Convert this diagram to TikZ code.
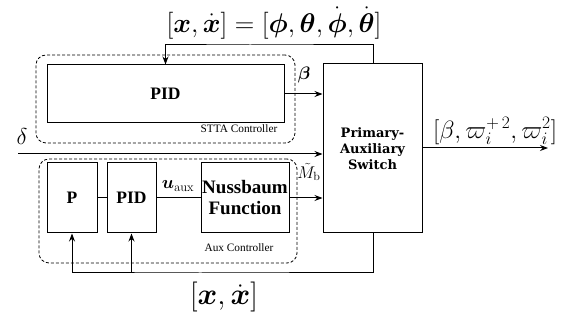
\RequirePackage{fix-cm}
\documentclass[tikz,border=0pt]{standalone}
\usepackage{amsmath,amssymb}
\usepackage[no-math]{fontspec}
\setmainfont{LiberationSerif}[Extension=.ttf,UprightFont=*-Regular,
  BoldFont=*-Bold,ItalicFont=*-Italic,BoldItalicFont=*-BoldItalic]
\newfontfamily\slabfont{DejaVu Serif}
\usepackage{tikz}
\usetikzlibrary{arrows.meta}
\tikzstyle{Block}=[draw,line width=1pt,inner sep=1pt,align=center,
font=\fontsize{17.5}{19}\selectfont\bfseries]
\tikzstyle{Group}=[draw,dash pattern=on 3pt off 2pt,line width=.8pt,
rounded corners=10pt]
\tikzstyle{Edge}=[draw,line width=1pt]
\tikzstyle{Arrow}=[Edge,-{Stealth[length=8pt,width=6pt]}]
\tikzstyle{Sig}=[font=\fontsize{18}{20}\selectfont]
\tikzstyle{Big}=[font=\fontsize{27}{30}\selectfont]
\tikzstyle{Tag}=[font=\fontsize{11.3}{13}\selectfont]

\begin{document}
\begin{tikzpicture}[x=1pt,y=-1pt]
            \useasboundingbox(0,0)rectangle(565,320);
            % groups
            \node[Group,minimum width=259pt,minimum height=88pt](stta)at(165.5,99){};
            \node[Group,minimum width=258pt,minimum height=104pt](aux)at(168,211){};
            % blocks
            \node[Block,minimum width=237pt,minimum height=58pt](pid)at(165.5,94){PID};
            \node[Block,minimum width=99pt,minimum height=169pt,
                font=\fontsize{13}{16}\selectfont\slabfont\bfseries](sw)at(372.5,148.5)
                {Primary-\\Auxiliary\\Switch};
            \node[Block,minimum width=50pt,minimum height=70pt](p)at(72,198){P};
            \node[Block,minimum width=49pt,minimum height=70pt](pidaux)at(131.5,198){PID};
            \node[Block,minimum width=88pt,minimum height=70pt,
                font=\fontsize{19}{21}\selectfont\bfseries](nuss)at(245,198)
                {Nussbaum\\Function};
            % free ends
            \coordinate(fbtop)at(250,45);
            \coordinate(fbbot)at(200,273);
            \coordinate(din)at(18,154);
            \coordinate(dout)at(548,148);
            % connectors
            \draw[Arrow](sw.north-|373,0)|-(fbtop)-|(pid.north);
            \draw[Arrow](pid.east)--(pid.east-|sw.west);
            \draw[Arrow](din)--(din-|sw.west);
            \draw[Arrow](sw.east|-dout)--(dout);
            \draw[Edge](p)--(pidaux);
            \draw[Edge](pidaux)--(nuss);
            \draw[Arrow](nuss.east)--(nuss.east-|sw.west);
            \draw[Arrow](sw.south-|373,0)|-(fbbot)-|(p.south);
            \draw[Arrow](pidaux.south|-fbbot)--(pidaux.south);
            % labels
            \node[Big](top)at(274,23){$[\boldsymbol{x},\dot{\boldsymbol{x}}]=
                [\boldsymbol{\phi},\boldsymbol{\theta},\dot{\boldsymbol{\phi}},
                \dot{\boldsymbol{\theta}}]$};
            \node[Big,font=\fontsize{30}{33}\selectfont](bot)at(224,297)
                {$[\boldsymbol{x},\dot{\boldsymbol{x}}]$};
            \node[font=\fontsize{25}{28}\selectfont](outlab)at(495,131)
                {$[\beta,\varpi_i^{+\,2},\varpi_i^2]$};
            \node[font=\fontsize{23}{26}\selectfont](delta)at(22,137){$\delta$};
            \node[Sig](beta)at(304,75){$\boldsymbol{\beta}$};
            \node[font=\fontsize{17}{19}\selectfont](mb)at(309,172){$\tilde{M}_{\mathrm{b}}$};
            \node[Sig](uaux)at(178,186){$\boldsymbol{u}_{\mathrm{aux}}$};
            \node[Tag](sttalab)at(239,129){STTA Controller};
            \node[Tag](auxlab)at(239,248){Aux Controller};
        \end{tikzpicture}
\end{document}
